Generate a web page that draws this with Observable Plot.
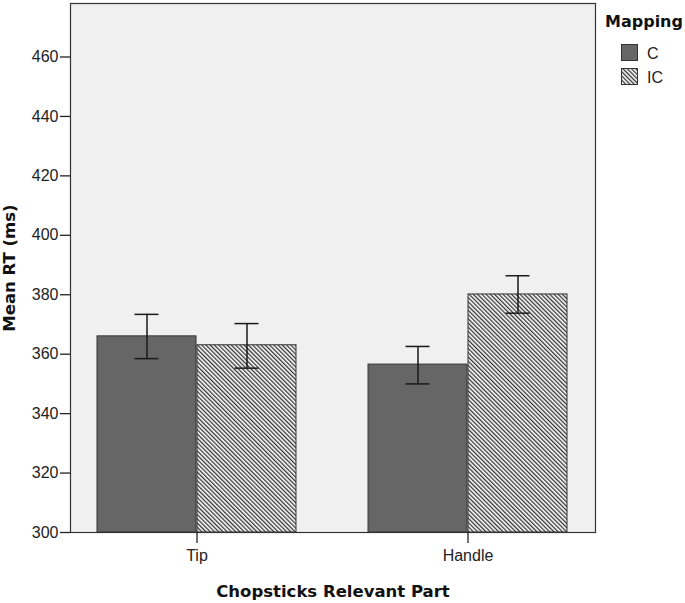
<!DOCTYPE html>
<html><head><meta charset="utf-8">
<script src="https://cdn.jsdelivr.net/npm/d3@7"></script>
<script src="https://cdn.jsdelivr.net/npm/@observablehq/plot@0.6"></script>
<style>
body{margin:0;background:#fff;}
#wrap{position:relative;width:685px;height:603px;}
#legend{position:absolute;left:600px;top:0;}
g[aria-label="y-axis label"] text, g[aria-label="x-axis label"] text{font-family:"DejaVu Sans";font-weight:bold;font-size:16.5px;fill:#111;}
g[aria-label="y-axis tick label"], g[aria-label="x-axis tick label"]{font-size:16px;fill:#222;}
</style></head><body>
<svg width="0" height="0" style="position:absolute">
<defs><pattern id="hatch" patternUnits="userSpaceOnUse" width="3" height="3" patternTransform="rotate(-45)"><rect width="3" height="3" fill="#fff"/><rect width="1.3" height="3" fill="#333"/></pattern></defs></svg>
<div id="wrap"></div>
<script>
const parts = ["Tip", "Handle"];
const mappings = ["C", "IC"];
const meanC = [366.0, 356.5];
const meanIC = [363.0, 380.1];
const loC = [358.5, 350.0];
const hiC = [373.4, 362.6];
const loIC = [355.3, 373.8];
const hiIC = [370.3, 386.4];
const yTicks = [300, 320, 340, 360, 380, 400, 420, 440, 460];
const yDomain = [300, 478];

const rowsC = parts.map((p, i) => ({part: p, mapping: "C", mean: meanC[i], lo: loC[i], hi: hiC[i]}));
const rowsIC = parts.map((p, i) => ({part: p, mapping: "IC", mean: meanIC[i], lo: loIC[i], hi: hiIC[i]}));

// half-band = 100px: C occupies left half, IC right half of each category band
const half = 100, capIn = 37.5;
const ebar = {stroke: "#1a1a1a", strokeWidth: 1.5};

const chart = Plot.plot({
  width: 685, height: 603,
  marginLeft: 70, marginRight: 90, marginTop: 3, marginBottom: 71,
  style: {background: "transparent", fontFamily: "Liberation Sans", fontSize: "16px", color: "#222"},
  x: {domain: parts, paddingInner: 0.265, paddingOuter: 0.098},
  y: {domain: yDomain, labelArrow: "none"},
  marks: [
    Plot.frame({fill: "#f0f0f0"}),
    Plot.barY(rowsC, {x: "part", y1: yDomain[0], y2: "mean", insetRight: half, fill: "#666666", stroke: "#333", strokeWidth: 1}),
    Plot.barY(rowsIC, {x: "part", y1: yDomain[0], y2: "mean", insetLeft: half, fill: "url(#hatch)", stroke: "#333", strokeWidth: 1}),
    Plot.ruleX(rowsC, {x: "part", y1: "lo", y2: "hi", dx: -half / 2, ...ebar}),
    Plot.ruleX(rowsIC, {x: "part", y1: "lo", y2: "hi", dx: half / 2, ...ebar}),
    Plot.tickY(rowsC, {x: "part", y: "lo", insetLeft: capIn, insetRight: half + capIn, ...ebar}),
    Plot.tickY(rowsC, {x: "part", y: "hi", insetLeft: capIn, insetRight: half + capIn, ...ebar}),
    Plot.tickY(rowsIC, {x: "part", y: "lo", insetLeft: half + capIn, insetRight: capIn, ...ebar}),
    Plot.tickY(rowsIC, {x: "part", y: "hi", insetLeft: half + capIn, insetRight: capIn, ...ebar}),
    Plot.frame({stroke: "#333", strokeWidth: 1.2}),
    Plot.axisY({ticks: yTicks, tickSize: 10, tickPadding: 2, fontSize: 16, label: "Mean RT (ms)", labelArrow: "none", labelAnchor: "center", labelOffset: 67, stroke: "#222", strokeWidth: 1.3}),
    Plot.axisX({anchor: "bottom", tickSize: 11, tickPadding: 6, fontSize: 16, label: "Chopsticks Relevant Part", labelAnchor: "center", labelOffset: 64, stroke: "#222", strokeWidth: 1.3})
  ]
});
document.getElementById("wrap").appendChild(chart);

// legend
const ns = "http://www.w3.org/2000/svg";
const lg = document.createElementNS(ns, "svg");
lg.setAttribute("id", "legend");
lg.setAttribute("width", 85); lg.setAttribute("height", 100);
const legendTitle = "Mapping";
const legendFills = ["#666666", "url(#hatch)"];
let t = document.createElementNS(ns, "text");
t.setAttribute("x", 5); t.setAttribute("y", 27);
t.setAttribute("style", "font-family:'DejaVu Sans';font-weight:bold;font-size:16px;fill:#111");
t.textContent = legendTitle; lg.appendChild(t);
mappings.forEach((m, i) => {
  const r = document.createElementNS(ns, "rect");
  r.setAttribute("x", 21.5); r.setAttribute("y", 44.5 + i * 24);
  r.setAttribute("width", 16); r.setAttribute("height", 16);
  r.setAttribute("fill", legendFills[i]); r.setAttribute("stroke", "#333");
  lg.appendChild(r);
  const tx = document.createElementNS(ns, "text");
  tx.setAttribute("x", 47); tx.setAttribute("y", 59 + i * 24);
  tx.setAttribute("style", "font-family:'Liberation Sans';font-size:16px;fill:#222");
  tx.textContent = m; lg.appendChild(tx);
});
document.getElementById("wrap").appendChild(lg);
</script>
</body></html>
